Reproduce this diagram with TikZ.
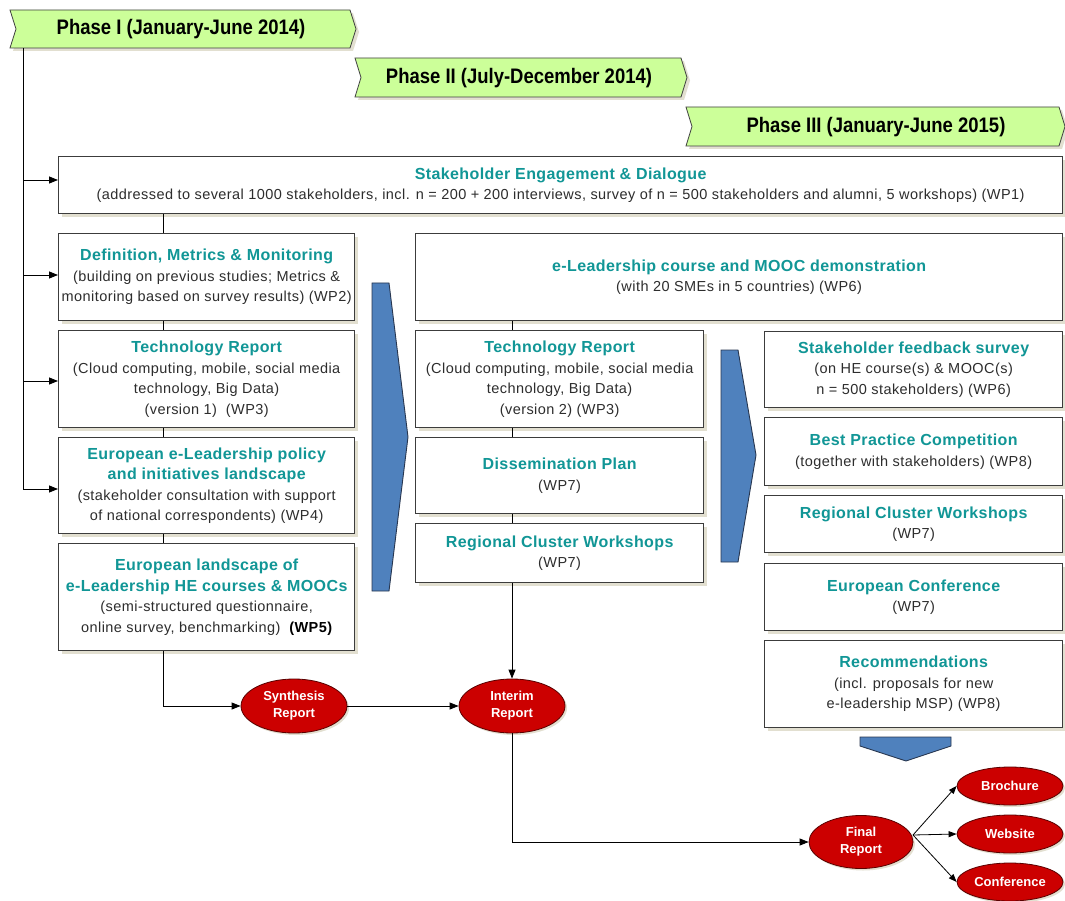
\documentclass[tikz,border=0pt]{standalone}
\usepackage{fontspec}
\setmainfont{Liberation Sans}
\newfontfamily\narrowfont[FakeStretch=0.88]{Liberation Sans}
\newfontfamily\bodyfont[LetterSpace=3]{Liberation Sans}
\newfontfamily\titlefont[LetterSpace=2.5]{Liberation Sans}
\usetikzlibrary{arrows.meta,shapes.geometric,shadows}
\definecolor{teal}{RGB}{17,150,150}
\definecolor{subtext}{RGB}{45,45,45}
\definecolor{boxline}{RGB}{60,60,60}
\definecolor{shadowc}{RGB}{226,223,208}
\definecolor{bannerfill}{RGB}{204,255,153}
\definecolor{redfill}{RGB}{204,0,0}
\definecolor{redline}{RGB}{90,0,0}
\definecolor{bluefill}{RGB}{79,129,189}
\definecolor{blueline}{RGB}{40,55,80}
\newcommand{\ttl}[1]{{\color{teal}\titlefont\bfseries\fontsize{16}{21}\selectfont #1}}
\tikzset{
  shade3/.style={drop shadow={shadow xshift=3pt,shadow yshift=-3pt,fill=shadowc,opacity=1}},
  box/.style={draw=boxline,line width=1.3pt,fill=white,inner sep=0pt,anchor=north west,
    align=center,text=subtext,font=\bodyfont\fontsize{14.5}{20.5}\selectfont,shade3},
  ell/.style={ellipse,draw=redline,line width=0.8pt,fill=redfill,inner sep=0pt,
    text=white,align=center,font=\bfseries\fontsize{13}{17}\selectfont,
    drop shadow={shadow xshift=2pt,shadow yshift=-2pt,fill=shadowc,opacity=1}},
  banner/.style={draw=black!75,line width=0.8pt,fill=bannerfill,shade3},
  bannertext/.style={font=\narrowfont\bfseries\fontsize{21}{24}\selectfont,text=black,inner sep=0pt},
  bigarrow/.style={draw=blueline,line width=0.9pt,fill=bluefill},
  conn/.style={line width=0.8pt,black},
  arr/.style={conn,-{Triangle[length=9pt,width=7pt]}},
}
\begin{document}
\begin{tikzpicture}[x=1pt,y=-1pt]
\useasboundingbox (0,0) rectangle (1065,901);
\fill[white] (0,0) rectangle (1065,901);

% phase banners
\path[banner] (10,10) -- (350,10) -- (356,29) -- (350,48) -- (10,48) -- (16,29) -- cycle;
\node[bannertext] (p1) at (181,29) {Phase I (January-June 2014)};
\path[banner] (355,58) -- (681,58) -- (687,77.5) -- (681,97) -- (355,97) -- (361,77.5) -- cycle;
\node[bannertext] (p2) at (519,78) {Phase II (July-December 2014)};
\path[banner] (686,107) -- (1059,107) -- (1065,126.5) -- (1059,146) -- (686,146) -- (692,126.5) -- cycle;
\node[bannertext] (p3) at (876,127) {Phase III (January-June 2015)};

% big blue arrows
\path[bigarrow] (372,283) -- (389,283) -- (408,437) -- (389,591) -- (372,591) -- cycle;
\path[bigarrow] (721,350) -- (738,350) -- (756,455) -- (738,562) -- (721,562) -- cycle;
\path[bigarrow] (860,737) -- (951,737) -- (951,746) -- (906,761) -- (860,746) -- cycle;

% boxes
\node[box,minimum width=1004,minimum height=57] (b1) at (58,156)
  {\ttl{Stakeholder Engagement \& Dialogue}\\(addressed to several 1000 stakeholders, incl. n = 200 + 200 interviews, survey of n = 500 stakeholders and alumni, 5 workshops) (WP1)};
\node[box,minimum width=296,minimum height=87] (wp2) at (58,233)
  {\ttl{Definition, Metrics \& Monitoring}\\(building on previous studies; Metrics \&\\monitoring based on survey results) (WP2)};
\node[box,minimum width=296,minimum height=97] (wp3) at (58,330)
  {\ttl{Technology Report}\\(Cloud computing, mobile, social media\\technology, Big Data)\\(version 1) \ (WP3)};
\node[box,minimum width=296,minimum height=96] (wp4) at (58,437)
  {\ttl{European e-Leadership policy}\\\ttl{and initiatives landscape}\\(stakeholder consultation with support\\of national correspondents) (WP4)};
\node[box,minimum width=296,minimum height=107] (wp5) at (58,543)
  {\ttl{European landscape of}\\\ttl{e-Leadership HE courses \& MOOCs}\\(semi-structured questionnaire,\\online survey, benchmarking) \ {\bfseries\color{black}(WP5)}};

\node[box,minimum width=647,minimum height=87] (wp6) at (415,233)
  {\ttl{e-Leadership course and MOOC demonstration}\\(with 20 SMEs in 5 countries) (WP6)};
\node[box,minimum width=288,minimum height=97] (tr2) at (415,330)
  {\ttl{Technology Report}\\(Cloud computing, mobile, social media\\technology, Big Data)\\(version 2) (WP3)};
\node[box,minimum width=288,minimum height=76] (dp) at (415,437)
  {\ttl{Dissemination Plan}\\(WP7)};
\node[box,minimum width=288,minimum height=59] (rc2) at (415,523)
  {\ttl{Regional Cluster Workshops}\\(WP7)};

\node[box,minimum width=298,minimum height=76] (sfs) at (764,331)
  {\ttl{Stakeholder feedback survey}\\(on HE course(s) \& MOOC(s)\\n = 500 stakeholders) (WP6)};
\node[box,minimum width=298,minimum height=68] (bpc) at (764,417)
  {\ttl{Best Practice Competition}\\(together with stakeholders) (WP8)};
\node[box,minimum width=298,minimum height=57] (rc3) at (764,495)
  {\ttl{Regional Cluster Workshops}\\(WP7)};
\node[box,minimum width=298,minimum height=67] (ec) at (764,563)
  {\ttl{European Conference}\\(WP7)};
\node[box,minimum width=298,minimum height=87] (rec) at (764,640)
  {\ttl{Recommendations}\\(incl. proposals for new\\e-leadership MSP) (WP8)};

% ellipses
\node[ell,minimum width=106,minimum height=54] (syn) at (294,706) {Synthesis\\Report};
\node[ell,minimum width=106,minimum height=54] (int) at (512,706) {Interim\\Report};
\node[ell,minimum width=104,minimum height=53] (fin) at (861,842) {Final\\Report};
\node[ell,minimum width=106,minimum height=38] (bro) at (1010,786) {Brochure};
\node[ell,minimum width=106,minimum height=38] (web) at (1010,834) {Website};
\node[ell,minimum width=106,minimum height=38] (conf) at (1010,882) {Conference};

% helper coordinates
\coordinate (lx) at (163,0);
\coordinate (mx) at (512,0);
\coordinate (sp0) at (23,48);
\coordinate (s1) at (23,180);
\coordinate (s2) at (23,275);
\coordinate (s3) at (23,381);
\coordinate (s4) at (23,489);
\coordinate (fo) at (913,835);

% spine and arrows
\draw[conn] (sp0) -- (s4);
\draw[arr] (s1) -- (s1 -| b1.west);
\draw[arr] (s2) -- (s2 -| wp2.west);
\draw[arr] (s3) -- (s3 -| wp3.west);
\draw[arr] (s4) -- (s4 -| wp4.west);

% left column connectors
\draw[conn] (b1.south -| lx) -- (wp2.north -| lx);
\draw[conn] (wp2.south -| lx) -- (wp3.north -| lx);
\draw[conn] (wp3.south -| lx) -- (wp4.north -| lx);
\draw[conn] (wp4.south -| lx) -- (wp5.north -| lx);
% middle column connectors
\draw[conn] (wp6.south -| mx) -- (tr2.north -| mx);
\draw[conn] (tr2.south -| mx) -- (dp.north -| mx);
\draw[conn] (dp.south -| mx) -- (rc2.north -| mx);

% report flow
\draw[arr] (wp5.south -| lx) |- (syn.west);
\draw[arr] (syn.east) -- (int.west);
\draw[arr] (rc2.south -| mx) -- (int.north);
\draw[arr] (int.south) |- (fin.west);
\draw[conn,-{Triangle[length=8pt,width=6pt]}] (fo) -- (bro.west);
\draw[conn,-{Triangle[length=8pt,width=6pt]}] (fo) -- (web.west);
\draw[conn,-{Triangle[length=8pt,width=6pt]}] (fo) -- (conf.west);
\end{tikzpicture}
\end{document}
